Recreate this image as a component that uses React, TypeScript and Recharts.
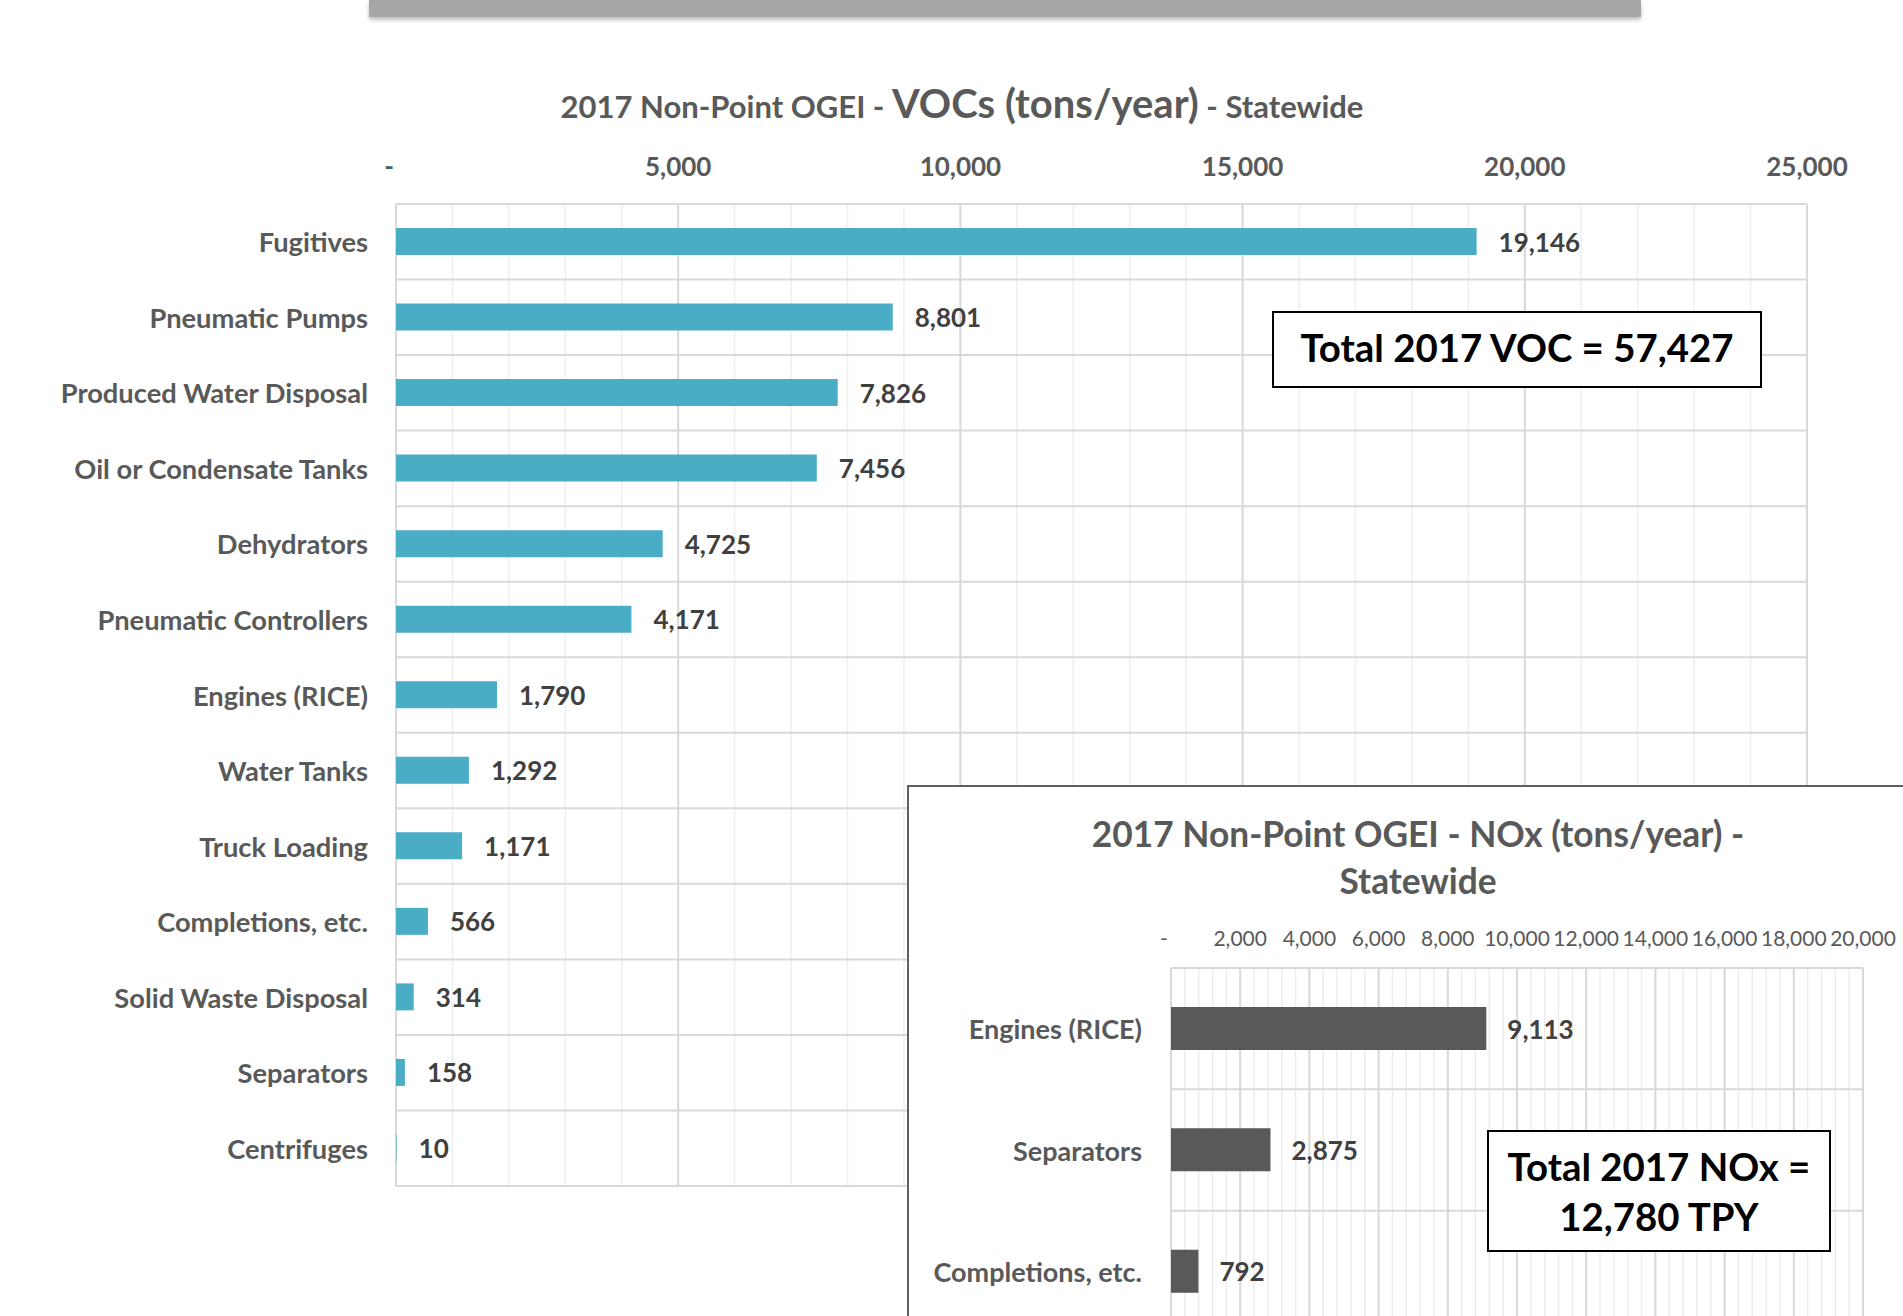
import React from 'react';
import { BarChart, Bar, XAxis, YAxis, CartesianGrid, LabelList } from 'recharts';

const vocCategories = [
  'Fugitives',
  'Pneumatic Pumps',
  'Produced Water Disposal',
  'Oil or Condensate Tanks',
  'Dehydrators',
  'Pneumatic Controllers',
  'Engines (RICE)',
  'Water Tanks',
  'Truck Loading',
  'Completions, etc.',
  'Solid Waste Disposal',
  'Separators',
  'Centrifuges',
];
const vocValues = [19146, 8801, 7826, 7456, 4725, 4171, 1790, 1292, 1171, 566, 314, 158, 10];
const vocTicks = [0, 5000, 10000, 15000, 20000, 25000];
const vocMax = 25000;
const vocMinorStep = 1000;

const noxCategories = ['Engines (RICE)', 'Separators', 'Completions, etc.'];
const noxValues = [9113, 2875, 792];
const noxTicks = [0, 2000, 4000, 6000, 8000, 10000, 12000, 14000, 16000, 18000, 20000];
const noxMax = 20000;
const noxMinorStep = 400;

const vocTitleParts = ['2017 Non-Point OGEI - ', 'VOCs (tons/year)', ' - Statewide'];
const noxTitleLines = ['2017 Non-Point OGEI - NOx (tons/year) -', 'Statewide'];
const vocTotalText = 'Total 2017 VOC = 57,427';
const noxTotalLines = ['Total 2017 NOx =', '12,780 TPY'];

const vocData = vocCategories.map((name, i) => ({ name, value: vocValues[i] }));
const noxData = noxCategories.map((name, i) => ({ name, value: noxValues[i] }));

const FONT = 'Lato, "Open Sans", sans-serif';
const fmt = (v: number) => (v === 0 ? '-' : Number(v).toLocaleString('en-US'));

const verticalGen = (max: number, step: number) => (props: any) => {
  const { offset } = props;
  const pts: number[] = [];
  for (let v = 0; v <= max; v += step) pts.push(offset.left + (offset.width * v) / max);
  return pts;
};
const boundaryGen = (n: number) => (props: any) => {
  const { offset } = props;
  const pts: number[] = [];
  for (let i = 0; i <= n; i++) pts.push(offset.top + (offset.height * i) / n);
  return pts;
};

const makeXTick = (lift: number, size: number, weight: number) => (props: any) => {
  const { x, y, payload } = props;
  const isZero = payload.value === 0;
  return (
    <text
      x={x + (isZero ? -7 : 0)}
      y={y - lift}
      textAnchor="middle"
      dominantBaseline="central"
      fill="#595959"
      fontFamily={FONT}
      fontSize={size}
      fontWeight={weight}
    >
      {fmt(payload.value)}
    </text>
  );
};

const makeYTick = (gap: number, size: number) => (props: any) => {
  const { x, y, payload } = props;
  return (
    <text
      x={x - gap}
      y={y}
      textAnchor="end"
      dominantBaseline="central"
      fill="#595959"
      fontFamily={FONT}
      fontSize={size}
      fontWeight={700}
    >
      {payload.value}
    </text>
  );
};

const makeValueLabel = (gap: number) => (props: any) => {
  const { x, y, width, height, value } = props;
  return (
    <text
      x={Number(x) + Number(width) + gap}
      y={Number(y) + Number(height) / 2}
      textAnchor="start"
      dominantBaseline="central"
      fill="#404040"
      fontFamily={FONT}
      fontSize={26}
      fontWeight={700}
    >
      {fmt(Number(value))}
    </text>
  );
};

export default function App() {
  return (
    <div
      style={{
        position: 'fixed',
        left: 0,
        top: 0,
        width: 1903,
        height: 1316,
        overflow: 'hidden',
        background: '#ffffff',
        fontFamily: FONT,
      }}
    >
      {/* top gray strip */}
      <div
        style={{
          position: 'absolute',
          left: 369,
          top: 0,
          width: 1272,
          height: 17,
          background: '#a6a6a6',
          boxShadow: '0 3px 4px rgba(0,0,0,0.25)',
        }}
      />

      {/* VOC title */}
      <div
        style={{
          position: 'absolute',
          left: 962,
          top: 78,
          transform: 'translateX(-50%)',
          whiteSpace: 'nowrap',
          lineHeight: '50px',
          color: '#595959',
          fontWeight: 700,
        }}
      >
        <span style={{ fontSize: 31 }}>{vocTitleParts[0]}</span>
        <span style={{ fontSize: 40 }}>{vocTitleParts[1]}</span>
        <span style={{ fontSize: 31 }}>{vocTitleParts[2]}</span>
      </div>

      <div style={{ position: 'absolute', left: 0, top: 0 }}>
        <BarChart
          width={1903}
          height={1316}
          data={vocData}
          layout="vertical"
          margin={{ top: 164, right: 96, bottom: 130, left: 16 }}
        >
          <CartesianGrid
            horizontal={false}
            stroke="#efefef"
            strokeWidth={1.5}
            verticalCoordinatesGenerator={verticalGen(vocMax, vocMinorStep)}
          />
          <CartesianGrid
            stroke="#d9d9d9"
            strokeWidth={2}
            verticalCoordinatesGenerator={verticalGen(vocMax, 5000)}
            horizontalCoordinatesGenerator={boundaryGen(vocCategories.length)}
          />
          <XAxis
            type="number"
            orientation="top"
            domain={[0, vocMax]}
            ticks={vocTicks}
            height={40}
            axisLine={false}
            tickLine={false}
            tickSize={0}
            tickMargin={0}
            interval={0}
            tick={makeXTick(38, 26, 700)}
          />
          <YAxis
            type="category"
            dataKey="name"
            width={380}
            axisLine={false}
            tickLine={false}
            tickSize={0}
            tickMargin={0}
            interval={0}
            tick={makeYTick(28, 27.3)}
          />
          <Bar dataKey="value" fill="#4bacc6" barSize={27} isAnimationActive={false}>
            <LabelList dataKey="value" content={makeValueLabel(22)} />
          </Bar>
        </BarChart>
      </div>

      {/* VOC total box */}
      <div
        style={{
          position: 'absolute',
          left: 1272,
          top: 311,
          width: 490,
          height: 77,
          boxSizing: 'border-box',
          border: '2px solid #000',
          background: '#fff',
          display: 'flex',
          alignItems: 'center',
          justifyContent: 'center',
          paddingBottom: 5,
          fontSize: 38.4,
          fontWeight: 700,
          color: '#000',
          whiteSpace: 'nowrap',
        }}
      >
        {vocTotalText}
      </div>

      {/* NOx inset */}
      <div
        style={{
          position: 'absolute',
          left: 907,
          top: 785,
          width: 1018,
          height: 560,
          border: '2px solid #5f5f5f',
          background: '#fff',
        }}
      >
        <div
          style={{
            position: 'absolute',
            left: 0,
            top: 23,
            width: 1018,
            textAlign: 'center',
            lineHeight: '47px',
            fontSize: 35.3,
            fontWeight: 700,
            color: '#595959',
            whiteSpace: 'nowrap',
          }}
        >
          <div>{noxTitleLines[0]}</div>
          <div>{noxTitleLines[1]}</div>
        </div>
        <div style={{ position: 'absolute', left: 0, top: 0 }}>
          <BarChart
            width={1018}
            height={560}
            data={noxData}
            layout="vertical"
            margin={{ top: 141, right: 64, bottom: 15, left: 12 }}
          >
            <CartesianGrid
              horizontal={false}
              stroke="#ececec"
              strokeWidth={1.5}
              verticalCoordinatesGenerator={verticalGen(noxMax, noxMinorStep)}
            />
            <CartesianGrid
              stroke="#d9d9d9"
              strokeWidth={2}
              verticalCoordinatesGenerator={verticalGen(noxMax, 2000)}
              horizontalCoordinatesGenerator={boundaryGen(noxCategories.length)}
            />
            <XAxis
              type="number"
              orientation="top"
              domain={[0, noxMax]}
              ticks={noxTicks}
              height={40}
              axisLine={false}
              tickLine={false}
              tickSize={0}
              tickMargin={0}
              interval={0}
              tick={makeXTick(31, 21, 400)}
            />
            <YAxis
              type="category"
              dataKey="name"
              width={250}
              axisLine={false}
              tickLine={false}
              tickSize={0}
              tickMargin={0}
              interval={0}
              tick={makeYTick(29, 27)}
            />
            <Bar dataKey="value" fill="#595959" barSize={43} isAnimationActive={false}>
              <LabelList dataKey="value" content={makeValueLabel(21)} />
            </Bar>
          </BarChart>
        </div>
      </div>

      {/* NOx total box */}
      <div
        style={{
          position: 'absolute',
          left: 1487,
          top: 1130,
          width: 344,
          height: 122,
          boxSizing: 'border-box',
          border: '2px solid #000',
          background: '#fff',
          display: 'flex',
          flexDirection: 'column',
          alignItems: 'center',
          justifyContent: 'center',
          fontSize: 38.4,
          fontWeight: 700,
          color: '#000',
          lineHeight: '50px',
          whiteSpace: 'nowrap',
        }}
      >
        <div>{noxTotalLines[0]}</div>
        <div>{noxTotalLines[1]}</div>
      </div>
    </div>
  );
}
